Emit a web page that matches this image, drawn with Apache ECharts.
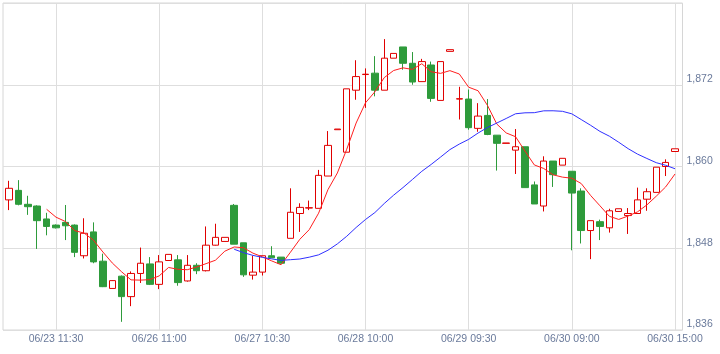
<!DOCTYPE html>
<html>
<head>
<meta charset="utf-8">
<script src="https://cdn.jsdelivr.net/npm/echarts@6/dist/echarts.min.js"></script>
<style>
  html, body { margin: 0; padding: 0; background: #fff; }
  #main { width: 720px; height: 354px; }
</style>
</head>
<body>
<div id="main"></div>
<script>
  // 30 minute bars, 12 per trading day
  var days = ['06/23', '06/26', '06/27', '06/28', '06/29', '06/30'];
  var times = ['09:00', '09:30', '10:00', '10:30', '11:00', '11:30',
               '12:30', '13:00', '13:30', '14:00', '14:30', '15:00'];

  var opens = [1855.1, 1856.5, 1854.45, 1854.2, 1852.3, 1851.4, 1851.8, 1851.4, 1846.9, 1850.4,
               1846.1, 1842.1, 1843.9, 1840.9, 1844.3, 1845.7, 1842.7, 1846.2, 1846.3, 1843.2,
               1845.5, 1844.7, 1848.45, 1849.0, 1854.3, 1848.8, 1844.05, 1844.5, 1846.9, 1846.7,
               1849.46, 1853.1, 1853.9, 1853.86, 1858.6, 1865.4, 1862.1, 1871.2, 1873.5, 1873.7,
               1871.2, 1875.9, 1877.55, 1875.15, 1872.46, 1874.9, 1869.7, 1876.9, 1869.9, 1869.9,
               1865.6, 1867.5, 1864.6, 1863.4, 1862.4, 1862.9, 1857.3, 1854.2, 1860.8, 1860.2,
               1859.3, 1856.4, 1850.6, 1851.9, 1851.0, 1853.4, 1852.8, 1853.1, 1855.2, 1856.2,
               1860.0, 1862.2];
  var closes = [1856.8, 1854.45, 1854.1, 1852.05, 1851.2, 1851.0, 1851.3, 1847.4, 1850.2, 1846.0,
                1842.36, 1843.25, 1840.9, 1844.3, 1845.8, 1842.7, 1846.0, 1847.1, 1842.96, 1845.5,
                1844.7, 1848.45, 1849.6, 1849.6, 1848.6, 1844.1, 1844.5, 1846.9, 1846.6, 1845.8,
                1853.28, 1854.0, 1853.95, 1858.7, 1863.1, 1865.5, 1871.4, 1873.2, 1873.55, 1871.2,
                1875.9, 1876.6, 1875.15, 1872.4, 1875.4, 1870.0, 1875.4, 1877.15, 1869.95, 1865.7,
                1867.4, 1864.7, 1863.4, 1863.45, 1862.9, 1856.9, 1854.5, 1860.8, 1858.8, 1861.2,
                1856.1, 1850.6, 1852.05, 1851.2, 1853.5, 1853.8, 1853.1, 1855.1, 1856.3, 1859.9,
                1860.6, 1862.6];
  var lows = [1853.6, 1854.3, 1852.9, 1847.9, 1849.9, 1850.9, 1849.2, 1846.7, 1846.5, 1845.8,
              1842.3, 1842.1, 1837.2, 1839.5, 1842.9, 1842.6, 1842.0, 1846.2, 1842.5, 1843.1,
              1844.2, 1844.6, 1848.4, 1849.0, 1848.6, 1843.8, 1843.4, 1844.0, 1846.6, 1845.8,
              1849.46, 1850.4, 1853.6, 1853.86, 1858.6, 1865.4, 1862.1, 1869.8, 1868.6, 1870.3,
              1871.2, 1875.9, 1874.2, 1872.0, 1872.46, 1869.5, 1869.7, 1876.9, 1866.9, 1865.4,
              1865.1, 1864.6, 1859.4, 1863.4, 1858.9, 1856.9, 1854.5, 1853.4, 1857.0, 1860.2,
              1847.7, 1848.7, 1846.4, 1849.2, 1850.3, 1853.4, 1850.1, 1853.1, 1853.5, 1856.2,
              1858.6, 1862.2];
  var highs = [1857.9, 1858.0, 1855.7, 1854.3, 1853.2, 1851.5, 1854.35, 1851.5, 1852.4, 1851.8,
               1847.2, 1843.3, 1844.0, 1844.6, 1848.1, 1846.7, 1847.0, 1847.1, 1847.0, 1847.0,
               1845.8, 1851.2, 1851.6, 1849.6, 1854.5, 1848.8, 1846.9, 1846.9, 1848.3, 1846.7,
               1856.8, 1854.6, 1855.0, 1859.5, 1865.2, 1865.5, 1871.4, 1875.6, 1874.4, 1876.2,
               1878.7, 1876.6, 1877.55, 1876.8, 1875.8, 1875.4, 1875.4, 1877.15, 1871.7, 1871.3,
               1869.3, 1869.9, 1864.6, 1863.45, 1865.5, 1862.9, 1857.8, 1861.5, 1860.8, 1861.2,
               1859.3, 1856.8, 1852.05, 1852.2, 1853.8, 1853.8, 1853.9, 1856.9, 1856.8, 1859.9,
               1861.05, 1862.6];

  // moving averages as drawn (5 and 25 bars)
  var ma5 = [1853.72, 1852.56, 1851.93, 1850.59, 1850.22, 1849.18, 1847.45, 1845.84, 1844.54, 1843.36,
             1843.32, 1843.39, 1843.94, 1845.18, 1844.91, 1844.85, 1845.25, 1845.74, 1846.24, 1847.57,
             1848.19, 1848.07, 1847.28, 1846.74, 1846.14, 1845.58, 1847.42, 1849.32, 1850.73, 1853.15,
             1856.61, 1859.05, 1862.53, 1866.38, 1869.35, 1870.97, 1873.05, 1874.09, 1874.48, 1874.25,
             1875.09, 1873.91, 1873.67, 1874.07, 1873.58, 1871.64, 1871.12, 1868.98, 1866.23, 1864.93,
             1864.37, 1862.27, 1860.23, 1859.71, 1858.78, 1858.44, 1858.28, 1857.5, 1855.75, 1854.23,
             1852.69, 1852.23, 1852.73, 1853.34, 1854.36, 1855.64, 1857.0, 1858.9];
  var ma25 = [1847.85, 1847.35, 1846.95, 1846.66, 1846.44, 1846.22, 1846.32, 1846.42, 1846.69, 1847.03,
              1847.71, 1848.64, 1849.76, 1851.05, 1852.22, 1853.24, 1854.57, 1855.79, 1856.91, 1858.09,
              1859.29, 1860.3, 1861.38, 1862.48, 1863.29, 1863.98, 1864.91, 1865.72, 1866.38, 1867.05,
              1867.74, 1867.88, 1867.9, 1868.17, 1868.18, 1868.1, 1867.73, 1866.89, 1866.05, 1865.15,
              1864.45, 1863.56, 1862.62, 1861.82, 1861.18, 1860.56, 1860.18, 1859.67];

  var categories = [];
  days.forEach(function (d) {
    times.forEach(function (t) { categories.push(d + ' ' + t); });
  });
  var candles = opens.map(function (o, i) { return [o, closes[i], lows[i], highs[i]]; });
  function pad(arr) {
    var out = [];
    for (var i = 0; i < categories.length - arr.length; i++) out.push('-');
    return out.concat(arr);
  }

  var labelColor = '#6a7a9b';
  var font = 'Liberation Sans';
  var showIdx = function (i) { return i % 11 === 5; };

  var chart = echarts.init(document.getElementById('main'));
  chart.setOption({
    animation: false,
    backgroundColor: '#fff',
    grid: [
      { left: 3, right: 37.5, top: 3, bottom: 24, show: true, borderColor: '#d6d6d6', borderWidth: 1,
        outerBoundsMode: 'none', containLabel: false },
      { left: 4.4, right: 40.3, top: 3, bottom: 24, outerBoundsMode: 'none', containLabel: false }
    ],
    xAxis: [
      { type: 'value', gridIndex: 0, min: 0, max: 1, show: false },
      {
        type: 'category', gridIndex: 1, data: categories, boundaryGap: true,
        axisLine: { show: false },
        axisTick: { show: false },
        axisLabel: { interval: showIdx, color: labelColor, fontFamily: font, fontSize: 10.5, margin: 4,
          formatter: function (v) { return v; } },
        splitLine: { show: true, interval: showIdx, alignWithLabel: true,
          lineStyle: { color: '#dedede', width: 1 } }
      }
    ],
    yAxis: [
      {
        type: 'value', gridIndex: 0, position: 'right', min: 1836, max: 1884, interval: 12,
        axisLine: { show: false }, axisTick: { show: false },
        axisLabel: { color: labelColor, fontFamily: font, fontSize: 10.5, margin: 4,
          verticalAlign: 'bottom', showMaxLabel: false,
          formatter: function (v) { return v.toLocaleString('en-US'); } },
        splitLine: { show: true, lineStyle: { color: '#dedede', width: 1 } }
      },
      { type: 'value', gridIndex: 1, min: 1836, max: 1884, show: false }
    ],
    series: [
      {
        type: 'candlestick', xAxisIndex: 1, yAxisIndex: 1, data: candles, barWidth: 7,
        itemStyle: { color: '#ffffff', color0: '#2e9b3b', borderColor: '#e00000', borderColor0: '#2e9b3b', borderWidth: 1 }
      },
      {
        type: 'line', xAxisIndex: 1, yAxisIndex: 1, data: pad(ma5), showSymbol: false, smooth: false,
        lineStyle: { color: '#ff1f1f', width: 1 }, z: 3
      },
      {
        type: 'line', xAxisIndex: 1, yAxisIndex: 1, data: pad(ma25), showSymbol: false, smooth: false,
        lineStyle: { color: '#2f2fff', width: 1 }, z: 3
      }
    ]
  });
</script>
</body>
</html>
